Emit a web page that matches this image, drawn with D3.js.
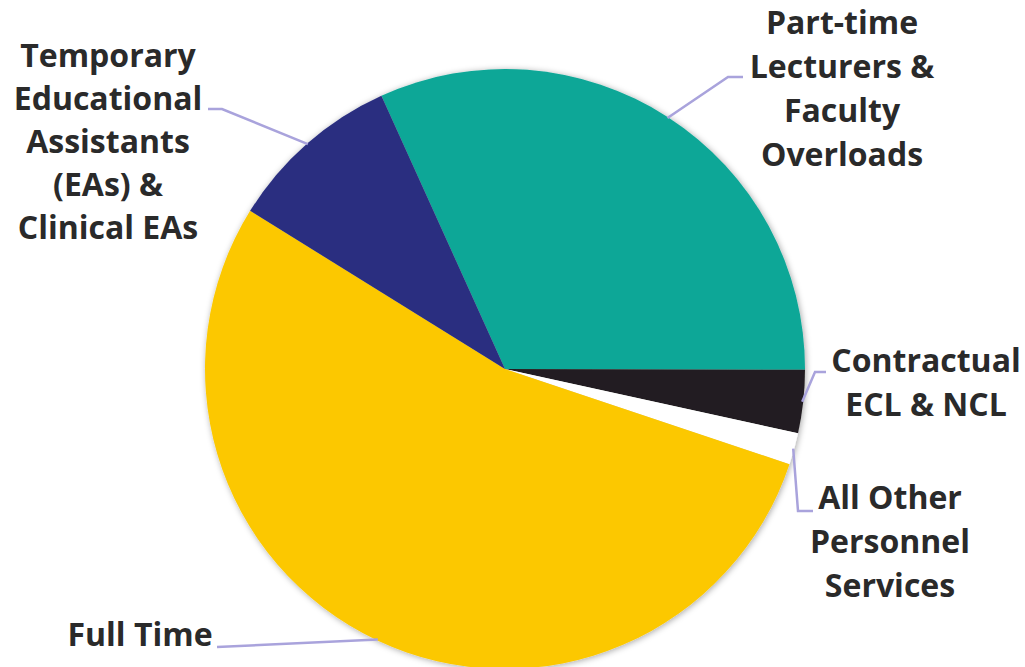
<!DOCTYPE html>
<html>
<head>
<meta charset="utf-8">
<script src="https://cdn.jsdelivr.net/npm/d3@7"></script>
<style>
  html, body { margin: 0; padding: 0; background: #ffffff; }
  svg { display: block; }
  .label { font-family: "Open Sans", "Noto Sans", sans-serif; font-weight: 700; font-size: 32px; fill: #2a2a2a; }
</style>
</head>
<body>
<svg id="chart" width="1025" height="667"></svg>
<script>
// Share of personnel spending by category (percent), in drawing order clockwise
const categories = [
  "Part-time Lecturers & Faculty Overloads",
  "Contractual ECL & NCL",
  "All Other Personnel Services",
  "Full Time",
  "Temporary Educational Assistants (EAs) & Clinical EAs"
];
const shares = [31.8, 3.4, 1.7, 53.7, 9.4];
const labelLines = [
  ["Part-time", "Lecturers &", "Faculty", "Overloads"],
  ["Contractual", "ECL & NCL"],
  ["All Other", "Personnel", "Services"],
  ["Full Time"],
  ["Temporary", "Educational", "Assistants", "(EAs) &", "Clinical EAs"]
];
const colors = ["#10a797", "#231f20", "#ffffff", "#fcc800", "#2a2f80"];

// Layout: label text anchor (centre of first baseline) and leader line path from label to knee
const layout = [
  { tx: 842, ty: 34,  lineH: 44, from: [743, 77],  knee: [728, 77] },
  { tx: 926, ty: 372, lineH: 44, from: [826, 372], knee: [815, 372] },
  { tx: 890, ty: 509, lineH: 44, from: [813, 511], knee: [798, 511] },
  { tx: 140, ty: 646, lineH: 44, from: [217, 647], knee: [217, 647] },
  { tx: 108, ty: 67,  lineH: 43, from: [208, 109], knee: [222, 109] }
];

const width = 1025, height = 667;
const cx = 505, cy = 369, radius = 300;
const startDeg = -24.33;

const svg = d3.select("#chart");

const defs = svg.append("defs");
const shadow = defs.append("filter").attr("id", "pieShadow")
  .attr("x", "-10%").attr("y", "-10%").attr("width", "120%").attr("height", "120%");
shadow.append("feDropShadow")
  .attr("dx", 1).attr("dy", 1).attr("stdDeviation", 3)
  .attr("flood-color", "#000").attr("flood-opacity", 0.35);

const data = categories.map((c, i) => ({ name: c, value: shares[i], color: colors[i], lines: labelLines[i], pos: layout[i] }));

const pie = d3.pie()
  .sort(null)
  .value(d => d.value)
  .startAngle(startDeg * Math.PI / 180)
  .endAngle(startDeg * Math.PI / 180 + 2 * Math.PI);

const arcs = pie(data);
const arc = d3.arc().innerRadius(0).outerRadius(radius);
const edge = d3.arc().innerRadius(radius - 1).outerRadius(radius - 1);

const g = svg.append("g").attr("transform", `translate(${cx},${cy})`);

g.append("g").attr("filter", "url(#pieShadow)")
  .selectAll("path")
  .data(arcs)
  .join("path")
  .attr("d", arc)
  .attr("fill", d => d.data.color);

// Leader lines
svg.append("g")
  .selectAll("path")
  .data(arcs)
  .join("path")
  .attr("d", d => {
    const [ex, ey] = edge.centroid(d);
    const p = d.data.pos;
    return d3.line()([p.from, p.knee, [cx + ex, cy + ey]]);
  })
  .attr("fill", "none")
  .attr("stroke", "#a9a3dc")
  .attr("stroke-width", 2.5);

// Labels
const labels = svg.append("g")
  .selectAll("text")
  .data(arcs)
  .join("text")
  .attr("class", "label")
  .attr("text-anchor", "middle")
  .attr("x", d => d.data.pos.tx)
  .attr("y", d => d.data.pos.ty);

labels.selectAll("tspan")
  .data(d => d.data.lines.map((t, i) => ({ t, i, p: d.data.pos })))
  .join("tspan")
  .attr("x", d => d.p.tx)
  .attr("dy", d => d.i === 0 ? 0 : d.p.lineH)
  .text(d => d.t);
</script>
</body>
</html>
